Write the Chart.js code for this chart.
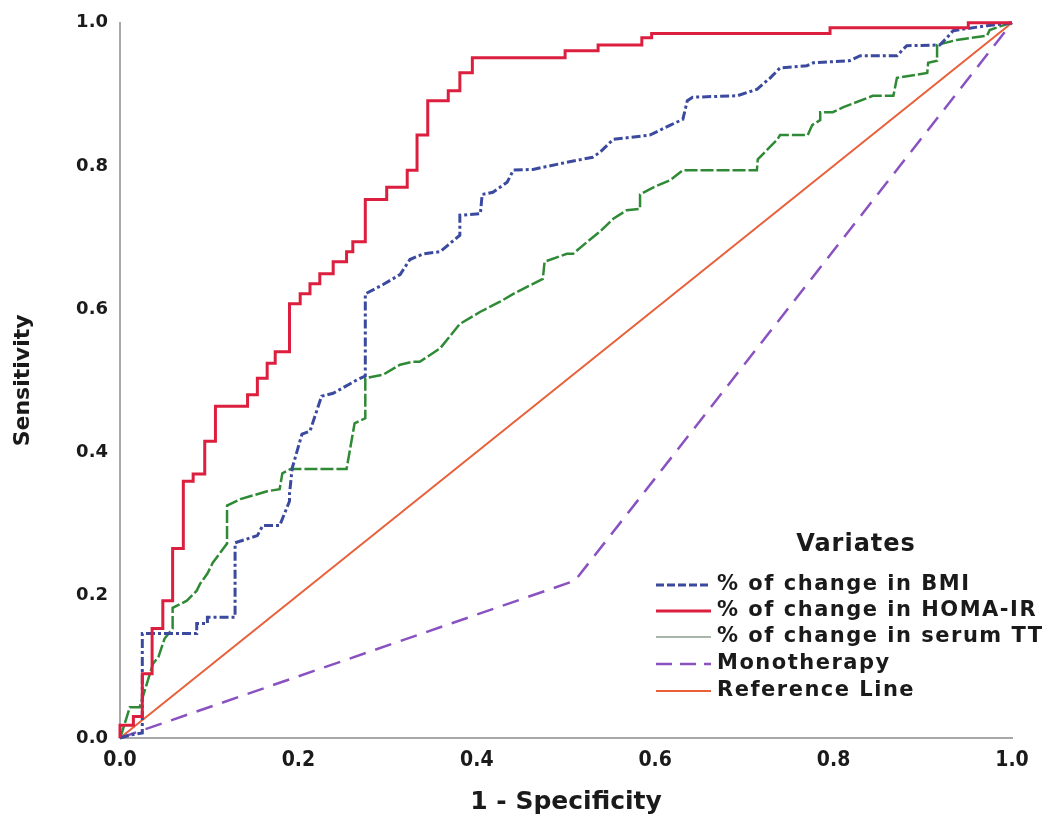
<!DOCTYPE html>
<html>
<head>
<meta charset="utf-8">
<script src="https://cdn.jsdelivr.net/npm/chart.js@4.4.1/dist/chart.umd.min.js"></script>
<style>
  html, body { margin: 0; padding: 0; background: #fff; }
</style>
</head>
<body>
<canvas id="roc" width="1057" height="825"></canvas>
<script>
// ROC curves (1 - specificity, sensitivity)
const bmiFpr = [0, 0.011, 0.025, 0.025, 0.086, 0.086, 0.098, 0.098, 0.129, 0.129, 0.154, 0.16, 0.179, 0.19, 0.19, 0.193, 0.204, 0.213, 0.226, 0.239, 0.266, 0.275, 0.275, 0.295, 0.314, 0.325, 0.34, 0.359, 0.381, 0.381, 0.404, 0.406, 0.418, 0.434, 0.441, 0.463, 0.501, 0.53, 0.538, 0.553, 0.594, 0.617, 0.631, 0.636, 0.642, 0.692, 0.714, 0.729, 0.74, 0.77, 0.777, 0.818, 0.83, 0.871, 0.882, 0.919, 0.927, 0.934, 0.972, 1.0];
const bmiTpr = [0, 0.004, 0.007, 0.146, 0.146, 0.16, 0.16, 0.169, 0.169, 0.273, 0.283, 0.297, 0.297, 0.331, 0.341, 0.377, 0.425, 0.429, 0.478, 0.482, 0.501, 0.506, 0.621, 0.634, 0.648, 0.669, 0.677, 0.68, 0.703, 0.731, 0.733, 0.76, 0.763, 0.777, 0.794, 0.795, 0.805, 0.812, 0.819, 0.837, 0.843, 0.857, 0.865, 0.891, 0.896, 0.898, 0.907, 0.923, 0.937, 0.94, 0.944, 0.947, 0.954, 0.954, 0.968, 0.969, 0.979, 0.989, 0.996, 1.0];

// HOMA-IR is a clean staircase: each point is the top of a vertical rise
const homaFpr = [0, 0, 0.015, 0.025, 0.036, 0.048, 0.059, 0.071, 0.082, 0.095, 0.107, 0.143, 0.154, 0.165, 0.174, 0.19, 0.202, 0.213, 0.224, 0.239, 0.254, 0.261, 0.275, 0.299, 0.322, 0.333, 0.345, 0.368, 0.381, 0.395, 0.499, 0.536, 0.585, 0.596, 0.796, 0.951, 1.0];
const homaTpr = [0, 0.018, 0.03, 0.09, 0.153, 0.192, 0.265, 0.359, 0.369, 0.415, 0.464, 0.48, 0.503, 0.524, 0.54, 0.607, 0.621, 0.635, 0.649, 0.666, 0.68, 0.694, 0.753, 0.77, 0.794, 0.843, 0.891, 0.905, 0.93, 0.951, 0.961, 0.969, 0.979, 0.985, 0.993, 1.0, 1.0];

const ttFpr = [0, 0.002, 0.011, 0.022, 0.037, 0.043, 0.05, 0.059, 0.059, 0.075, 0.086, 0.09, 0.098, 0.104, 0.12, 0.12, 0.135, 0.165, 0.179, 0.182, 0.191, 0.254, 0.263, 0.275, 0.275, 0.295, 0.314, 0.328, 0.336, 0.359, 0.381, 0.404, 0.426, 0.441, 0.474, 0.476, 0.501, 0.508, 0.524, 0.538, 0.553, 0.568, 0.583, 0.583, 0.598, 0.617, 0.631, 0.714, 0.715, 0.737, 0.74, 0.771, 0.776, 0.785, 0.785, 0.799, 0.811, 0.844, 0.867, 0.871, 0.905, 0.906, 0.916, 0.916, 0.938, 0.972, 0.975, 0.989, 1.0];
const ttTpr = [0, 0.007, 0.043, 0.043, 0.104, 0.113, 0.139, 0.153, 0.182, 0.192, 0.206, 0.216, 0.23, 0.245, 0.272, 0.325, 0.334, 0.345, 0.348, 0.37, 0.376, 0.376, 0.44, 0.447, 0.503, 0.508, 0.522, 0.526, 0.526, 0.545, 0.579, 0.596, 0.61, 0.621, 0.642, 0.666, 0.677, 0.677, 0.694, 0.708, 0.726, 0.738, 0.74, 0.76, 0.77, 0.78, 0.794, 0.794, 0.809, 0.837, 0.843, 0.843, 0.857, 0.864, 0.875, 0.875, 0.882, 0.898, 0.898, 0.923, 0.93, 0.944, 0.947, 0.969, 0.976, 0.982, 0.99, 0.996, 1.0];

const monoFpr = [0, 0.51, 1.0];
const monoTpr = [0, 0.22, 1.0];

const refFpr = [0, 1];
const refTpr = [0, 1];

const seriesNames = ['% of change in BMI', '% of change in HOMA-IR', '% of change in serum TT', 'Monotherapy', 'Reference Line'];
const axisTicks = [0, 0.2, 0.4, 0.6, 0.8, 1.0];

function pts(xs, ys) {
  return xs.map((x, i) => ({ x: x, y: ys[i] }));
}

const fontSans = "'DejaVu Sans', 'Liberation Sans', sans-serif";
const fontNarrow = "'Liberation Sans Narrow', 'DejaVu Sans Condensed', 'Liberation Sans', sans-serif";

// legend drawn inside the plot, like the SPSS output
const variatesLegend = {
  id: 'variatesLegend',
  afterDatasetsDraw(chart) {
    const ctx = chart.ctx;
    ctx.save();
    ctx.fillStyle = '#1a1a1a';
    ctx.textBaseline = 'middle';
    ctx.textAlign = 'center';
    ctx.font = 'bold 24px ' + fontSans;
    try { ctx.letterSpacing = '1px'; } catch (e) {}
    ctx.fillText('Variates', 856, 545);
    ctx.textAlign = 'left';
    ctx.font = 'bold 21px ' + fontSans;
    try { ctx.letterSpacing = '1.5px'; } catch (e) {}
    const rowY = [585, 611, 637, 664, 691];
    chart.data.datasets.forEach((ds, i) => {
      const y = rowY[i];
      ctx.save();
      ctx.strokeStyle = ds.legendColor || ds.borderColor;
      ctx.lineWidth = ds.legendWidth || ds.borderWidth;
      ctx.setLineDash(ds.legendDash || []);
      ctx.beginPath();
      ctx.moveTo(656, y);
      ctx.lineTo(711, y);
      ctx.stroke();
      ctx.restore();
      ctx.fillText(ds.label, 717, y);
    });
    ctx.restore();
  }
};

const ctx = document.getElementById('roc');
new Chart(ctx, {
  type: 'line',
  data: {
    datasets: [
      {
        label: seriesNames[0],
        data: pts(bmiFpr, bmiTpr),
        borderColor: '#3b4a9e',
        borderWidth: 3,
        borderDash: [9, 3, 3, 3],
        legendDash: [8, 3],
        order: 1
      },
      {
        label: seriesNames[1],
        data: pts(homaFpr, homaTpr),
        borderColor: '#dc1f3e',
        borderWidth: 3,
        stepped: 'before',
        order: 0
      },
      {
        label: seriesNames[2],
        data: pts(ttFpr, ttTpr),
        borderColor: '#2f8a36',
        borderWidth: 2.5,
        borderDash: [13, 3],
        legendColor: '#a9b6a9',
        legendWidth: 2,
        order: 2
      },
      {
        label: seriesNames[3],
        data: pts(monoFpr, monoTpr),
        borderColor: '#8a52c0',
        borderWidth: 2.5,
        borderDash: [17, 10],
        legendDash: [16, 8],
        order: 3
      },
      {
        label: seriesNames[4],
        data: pts(refFpr, refTpr),
        borderColor: '#e8603a',
        borderWidth: 2,
        order: 4
      }
    ]
  },
  options: {
    responsive: false,
    animation: false,
    clip: 4,
    elements: { point: { radius: 0 }, line: { tension: 0, borderCapStyle: 'butt' } },
    layout: { padding: { left: 10, right: 45, top: 20, bottom: 8 } },
    plugins: { legend: { display: false }, tooltip: { enabled: false } },
    scales: {
      x: {
        type: 'linear',
        min: 0,
        max: 1,
        afterBuildTicks: s => { s.ticks = axisTicks.map(v => ({ value: v })); },
        afterFit: s => { s.height = 79; },
        grid: { display: false, drawTicks: false },
        border: { display: true, color: '#a8a8a8', width: 2 },
        ticks: {
          padding: 10,
          color: '#1a1a1a',
          font: { family: fontNarrow, weight: 'bold', size: 21 },
          callback: v => Number(v).toFixed(1)
        },
        title: {
          display: true,
          text: '1 - Specificity',
          color: '#1a1a1a',
          font: { family: fontSans, weight: 'bold', size: 25 },
          padding: 0
        }
      },
      y: {
        type: 'linear',
        min: 0,
        max: 1,
        afterBuildTicks: s => { s.ticks = axisTicks.map(v => ({ value: v })); },
        afterFit: s => { s.width = 110; },
        grid: { display: false, drawTicks: false },
        border: { display: true, color: '#a8a8a8', width: 2 },
        ticks: {
          padding: 12,
          color: '#1a1a1a',
          font: { family: fontSans, weight: 'bold', size: 18 },
          callback: v => Number(v).toFixed(1)
        },
        title: {
          display: true,
          text: 'Sensitivity',
          color: '#1a1a1a',
          font: { family: fontSans, weight: 'bold', size: 22 },
          padding: 0
        }
      }
    }
  },
  plugins: [variatesLegend]
});
</script>
</body>
</html>
